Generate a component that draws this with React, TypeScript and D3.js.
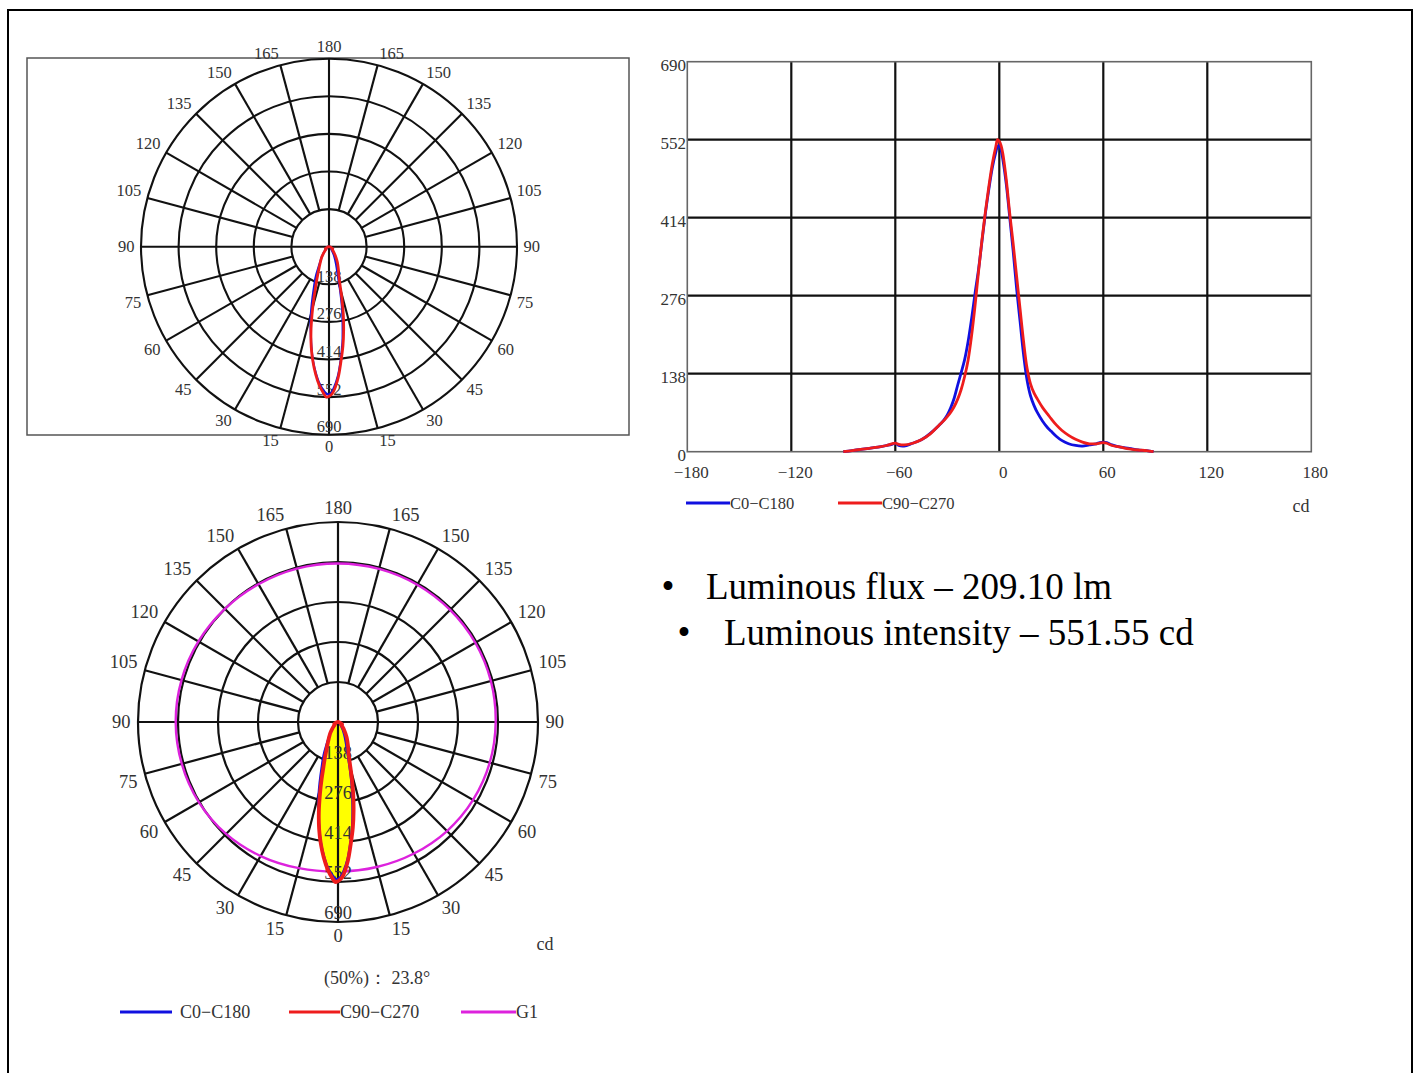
import React from 'react';
import * as d3 from 'd3';

// ---------- data ----------
const ANGLES = [-90, -85, -80, -75, -70, -65, -62, -60, -58, -55, -50, -45, -40, -35, -32, -30, -28, -26, -24, -22, -20, -18, -16, -14, -12, -10, -8, -6, -4, -2, -1, 0, 1, 2, 4, 6, 8, 10, 12, 14, 16, 18, 20, 22, 25, 28, 30, 33, 36, 40, 44, 48, 52, 56, 58, 60, 62, 65, 70, 75, 80, 85, 89];
const C0_C180 = [0, 2, 4, 6, 8, 11, 13, 15, 11, 10, 15, 21, 32, 46, 56, 65, 78, 95, 118, 140, 163, 195, 235, 280, 322, 372, 422, 465, 503, 530, 540, 542, 534, 518, 474, 415, 355, 288, 230, 172, 127, 99, 82, 69, 54, 42, 36, 27, 20, 14, 11, 10, 12, 14, 16, 17, 16, 12, 8, 6, 3, 2, 0];
const C90_C270 = [0, 2, 4, 6, 8, 11, 14, 15, 13, 12, 15, 21, 31, 46, 55, 62, 70, 80, 93, 110, 133, 162, 205, 258, 318, 375, 425, 470, 510, 540, 552, 549, 542, 528, 482, 422, 368, 310, 252, 195, 148, 120, 104, 93, 78, 66, 58, 47, 38, 29, 22, 17, 14, 14, 15, 16, 15, 11, 8, 5, 3, 2, 0];
const G1_ANGLES = [0, 15, 30, 45, 60, 75, 90, 105, 120, 135, 150, 165, 180];
const G1_RIGHT = [516, 518, 524, 532, 538, 542, 544, 546, 547, 547, 547, 547, 547];
const G1_LEFT = [516, 522, 534, 546, 554, 558, 560, 559, 556, 552, 549, 548, 547];
const Y_TICKS = [0, 138, 276, 414, 552, 690];
const X_TICKS = [-180, -120, -60, 0, 60, 120, 180];
const RING_VALUES = [138, 276, 414, 552, 690];
const ANGLE_LABELS = [0, 15, 30, 45, 60, 75, 90, 105, 120, 135, 150, 165, 180];
const SERIES = ['C0\u2212C180', 'C90\u2212C270', 'G1'];
const BULLETS = ['Luminous flux \u2013 209.10 lm', 'Luminous intensity \u2013 551.55 cd'];
const BEAM_LABEL = '(50%)\uFF1A 23.8\u00B0';
const UNIT = 'cd';
const IMAX = 690;

const BLUE = '#1010e0';
const RED = '#ee1c1c';
const MAGENTA = '#dd22dd';
const TXT = '#333';
const GRID = '#111';
const FONT = "'Liberation Serif', 'Times New Roman', serif";

function pp(cx: number, cy: number, r: number, g: number): [number, number] {
  const a = (g * Math.PI) / 180;
  return [cx + r * Math.sin(a), cy + r * Math.cos(a)];
}

function sgn(v: number) {
  return Math.abs(v) < 1e-6 ? 0 : Math.sign(v);
}

type PolarProps = {
  cx: number; cy: number; R: number; fs: number; gap: number; ringDy: number;
  fill?: boolean; g1?: boolean; redW: number; blueW: number; gridW: number;
};

function Polar({ cx, cy, R, fs, gap, ringDy, fill, g1, redW, blueW, gridW }: PolarProps) {
  const r = d3.scaleLinear().domain([0, IMAX]).range([0, R]);
  const line = d3.line<[number, number]>().curve(d3.curveCatmullRom.alpha(0.5));
  const lobe = (vals: number[]) =>
    line(ANGLES.map((a, i) => pp(cx, cy, r(vals[i]), a))) + 'Z';
  const spokes = d3.range(24).map((k) => {
    const a = k * 15;
    const inner = k % 6 === 0 ? 0 : r(RING_VALUES[0]);
    const [x1, y1] = pp(cx, cy, inner, a);
    const [x2, y2] = pp(cx, cy, R, a);
    return <line key={k} x1={x1} y1={y1} x2={x2} y2={y2} stroke={GRID} strokeWidth={gridW} />;
  });
  const labels: JSX.Element[] = [];
  const h = fs * 0.68;
  ANGLE_LABELS.forEach((L) => {
    const sides = L === 0 || L === 180 ? [L] : [L, -L];
    const w = String(L).length * fs * 0.5;
    sides.forEach((g) => {
      const a = (g * Math.PI) / 180;
      const ux = Math.sin(a);
      const uy = Math.cos(a);
      // nearest corner of the label box sits on the spoke ray just outside the circle
      const x = cx + (R + gap) * ux + sgn(ux) * w / 2;
      const y = cy + (R + gap) * uy + sgn(uy) * h / 2;
      labels.push(
        <text key={'a' + g} x={x} y={y} textAnchor="middle" dominantBaseline="central" fontSize={fs} fill={TXT}>{L}</text>
      );
    });
  });
  let g1Path = '';
  if (g1) {
    const pts: [number, number][] = [];
    G1_ANGLES.forEach((a, i) => pts.push(pp(cx, cy, r(G1_RIGHT[i]), a)));
    for (let i = G1_ANGLES.length - 2; i >= 1; i--) pts.push(pp(cx, cy, r(G1_LEFT[i]), -G1_ANGLES[i]));
    g1Path = d3.line<[number, number]>().curve(d3.curveCatmullRomClosed.alpha(0.5))(pts) || '';
  }
  return (
    <g fontFamily={FONT}>
      {RING_VALUES.map((v) => (
        <circle key={v} cx={cx} cy={cy} r={r(v)} fill="none" stroke={GRID} strokeWidth={gridW} />
      ))}
      {spokes}
      {g1 && <path d={g1Path} fill="none" stroke={MAGENTA} strokeWidth={2.4} />}
      {fill && <path d={lobe(C90_C270)} fill="#ffff00" stroke="none" />}
      {fill && <path d={lobe(C0_C180)} fill="#ffff00" stroke="none" />}
      {fill && (
        <line x1={cx} y1={cy} x2={cx} y2={cy + r(560)} stroke={GRID} strokeWidth={gridW} />
      )}
      {RING_VALUES.map((v) => (
        <text key={'r' + v} x={cx} y={cy + r(v) - ringDy} textAnchor="middle" dominantBaseline="central" fontSize={fs} fill={TXT}>{v}</text>
      ))}
      <path d={lobe(C0_C180)} fill="none" stroke={BLUE} strokeWidth={blueW} strokeLinejoin="round" />
      <path d={lobe(C90_C270)} fill="none" stroke={RED} strokeWidth={redW} strokeLinejoin="round" />
      {labels}
    </g>
  );
}

function Cartesian() {
  const x = d3.scaleLinear().domain([-180, 180]).range([687.3, 1311.3]);
  const y = d3.scaleLinear().domain([0, IMAX]).range([451.7, 61.7]);
  const line = d3
    .line<number>()
    .x((_, i) => x(ANGLES[i]))
    .y((d) => y(d))
    .curve(d3.curveCatmullRom.alpha(0.5));
  return (
    <g fontFamily={FONT}>
      {X_TICKS.slice(1, -1).map((t) => (
        <line key={'vx' + t} x1={x(t)} x2={x(t)} y1={y(IMAX)} y2={y(0)} stroke={GRID} strokeWidth={2.2} />
      ))}
      {Y_TICKS.slice(1, -1).map((t) => (
        <line key={'hy' + t} x1={x(-180)} x2={x(180)} y1={y(t)} y2={y(t)} stroke={GRID} strokeWidth={2.2} />
      ))}
      <rect x={x(-180)} y={y(IMAX)} width={x(180) - x(-180)} height={y(0) - y(IMAX)} fill="none" stroke="#666" strokeWidth={1.6} />
      {X_TICKS.map((t) => (
        <text key={'xt' + t} x={x(t) + 4} y={472} textAnchor="middle" dominantBaseline="central" fontSize={17} fill={TXT}>
          {t < 0 ? '\u2212' + Math.abs(t) : String(t)}
        </text>
      ))}
      {Y_TICKS.map((t) => (
        <text key={'yt' + t} x={686} y={y(t) + 4} textAnchor="end" dominantBaseline="central" fontSize={17} fill={TXT}>{t}</text>
      ))}
      <path d={line(C0_C180) || ''} fill="none" stroke={BLUE} strokeWidth={2.8} strokeLinejoin="round" />
      <path d={line(C90_C270) || ''} fill="none" stroke={RED} strokeWidth={2.8} strokeLinejoin="round" />
      <line x1={686} x2={730} y1={503} y2={503} stroke={BLUE} strokeWidth={3} />
      <text x={730} y={503} dominantBaseline="central" fontSize={16.5} fill={TXT}>{SERIES[0]}</text>
      <line x1={838} x2={882} y1={503} y2={503} stroke={RED} strokeWidth={3} />
      <text x={882} y={503} dominantBaseline="central" fontSize={16.5} fill={TXT}>{SERIES[1]}</text>
      <text x={1301} y={506} textAnchor="middle" dominantBaseline="central" fontSize={18} fill={TXT}>{UNIT}</text>
    </g>
  );
}

export default function App() {
  return (
    <svg
      width={1413}
      height={1073}
      viewBox="0 0 1413 1073"
      style={{ position: 'absolute', left: 0, top: 0, background: '#fff' }}
    >
      <rect x={0} y={0} width={1413} height={1073} fill="#fff" />
      <rect x={8} y={10} width={1404} height={1080} fill="none" stroke="#000" strokeWidth={2} />

      {/* top-left polar */}
      <rect x={27} y={58} width={602} height={377} fill="none" stroke="#555" strokeWidth={1.5} />
      <Polar cx={329} cy={246.7} R={188} fs={16.5} gap={6.5} ringDy={8} redW={2.8} blueW={2.2} gridW={2.1} />

      {/* top-right cartesian */}
      <Cartesian />

      {/* bottom-left polar */}
      <Polar cx={338} cy={722} R={200} fs={18.5} gap={7.5} ringDy={9} fill g1 redW={3.8} blueW={2.4} gridW={2.2} />
      <g fontFamily={FONT} fill={TXT}>
        <text x={545} y={944} textAnchor="middle" dominantBaseline="central" fontSize={18}>{UNIT}</text>
        <text x={377} y={978} textAnchor="middle" dominantBaseline="central" fontSize={18}>{BEAM_LABEL}</text>
        <line x1={120} x2={172} y1={1012} y2={1012} stroke={BLUE} strokeWidth={3} />
        <text x={180} y={1012} dominantBaseline="central" fontSize={18}>{SERIES[0]}</text>
        <line x1={289} x2={340} y1={1012} y2={1012} stroke={RED} strokeWidth={3} />
        <text x={340} y={1012} dominantBaseline="central" fontSize={18}>{SERIES[1]}</text>
        <line x1={461} x2={516} y1={1012} y2={1012} stroke={MAGENTA} strokeWidth={3} />
        <text x={516} y={1012} dominantBaseline="central" fontSize={18}>{SERIES[2]}</text>
      </g>

      {/* bullet text */}
      <g fontFamily={FONT} fill="#000" fontSize={37}>
        <text x={668} y={599} textAnchor="middle">{'\u2022'}</text>
        <text x={706} y={599}>{BULLETS[0]}</text>
        <text x={684} y={645} textAnchor="middle">{'\u2022'}</text>
        <text x={724} y={645}>{BULLETS[1]}</text>
      </g>
    </svg>
  );
}
